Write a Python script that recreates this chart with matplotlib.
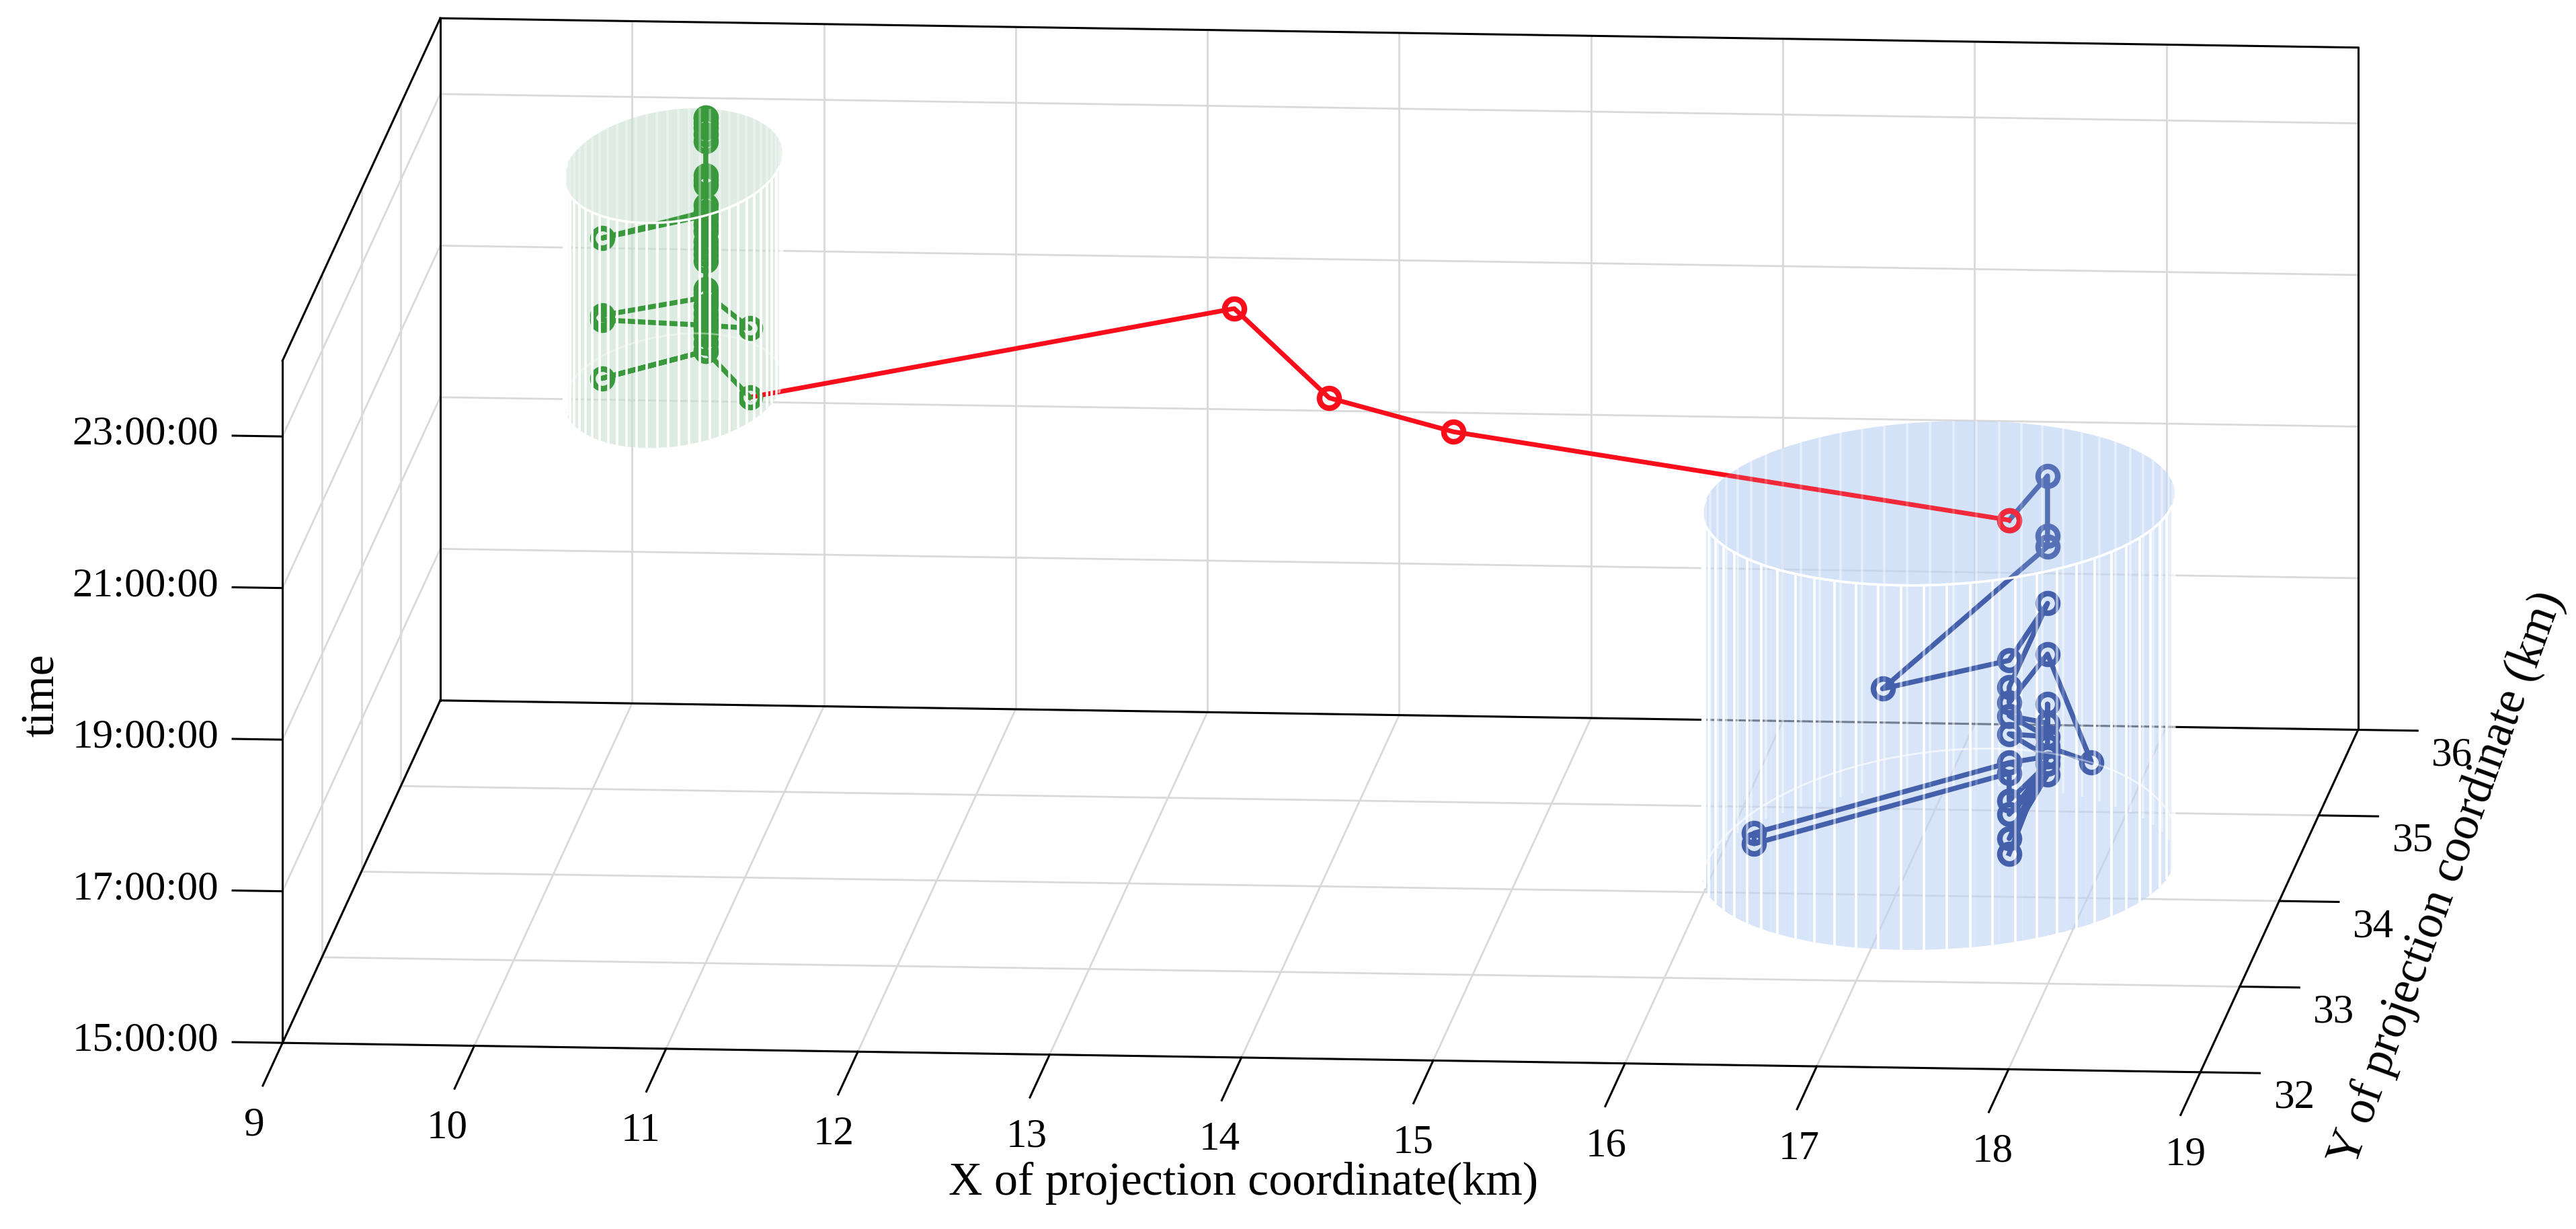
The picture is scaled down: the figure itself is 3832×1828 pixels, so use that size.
import numpy as np
import matplotlib
matplotlib.use("Agg")
import matplotlib.pyplot as plt
from mpl_toolkits.mplot3d import proj3d
from mpl_toolkits.mplot3d.art3d import Poly3DCollection, Line3DCollection

########### DATA ###########
x_ticks = [9, 10, 11, 12, 13, 14, 15, 16, 17, 18, 19]
y_ticks = [32, 33, 34, 35, 36]
z_ticks = [15, 17, 19, 21, 23]
z_labels = ["15:00:00", "17:00:00", "19:00:00", "21:00:00", "23:00:00"]

# cylinders: centre x, centre y, radius x, radius y, bottom hour, top hour
green_cyl = [10.42, 35.0, 0.553, 0.67, 20.27, 23.24]
blue_cyl = [17.224, 34.0, 1.215, 0.96, 15.37, 20.18]

green_y = 35.0
green_x = [10.82, 10.59, 10.05, 10.59, 10.59, 10.59, 10.59, 10.59, 10.82, 10.59, 10.59, 10.59,
           10.05, 10.05, 10.59, 10.59, 10.59, 10.59, 10.59, 10.59, 10.59, 10.59, 10.59,
           10.59, 10.59, 10.59, 10.05, 10.59, 10.59, 10.59, 10.59, 10.59, 10.59, 10.59,
           10.59, 10.59, 10.59, 10.59]
green_z = [20.20, 20.80, 20.42, 20.80, 20.91, 21.01, 21.10, 21.14, 21.11, 21.56, 21.21, 21.14,
           21.19, 21.25, 21.51, 21.62, 21.40, 21.30, 21.99, 22.08, 22.16, 22.25, 22.38,
           22.47, 22.56, 22.64, 22.27, 22.59, 22.73, 22.99, 23.05, 23.12, 23.57, 23.66,
           23.75, 23.81, 23.88, 23.88]

red_x = [10.82, 13.14, 13.80, 14.523, 17.592]
red_y = [35.0, 36.0, 35.2, 34.83, 34.0]
red_z = [20.20, 20.33, 20.08, 20.08, 19.97]

blue_y = 34.0
blue_x = [17.592, 17.792, 17.792, 17.792, 16.932, 17.592, 17.792, 17.592, 17.592, 17.792, 18.022,
          17.792, 17.792, 17.792, 17.592, 17.792, 17.592, 17.792, 17.592, 16.262, 16.262, 17.592,
          17.592, 17.792, 17.592, 17.792, 17.592, 17.792, 17.592]
blue_z = [19.97, 20.56, 19.77, 19.63, 17.72, 18.12, 18.88, 17.77, 17.56, 18.21, 16.79,
          16.99, 17.55, 17.30, 17.39, 17.12, 17.15, 16.86, 16.77, 15.79, 15.65, 16.63,
          16.27, 16.76, 16.09, 16.62, 15.77, 16.86, 15.57]
############################

plt.rcParams["font.family"] = ["Liberation Serif", "DejaVu Serif"]

W, H = 3832, 1828
S = 4000
CX, CY = 1910, 865
fig = plt.figure(figsize=(W / 100, H / 100), dpi=100, facecolor="white")
ax = fig.add_axes([(CX - S / 2) / W, (H - CY - S / 2) / H, S / W, S / H], projection="3d", proj_type="ortho")
ax.computed_zorder = False
ax.view_init(elev=10.5, azim=-85.2)
ax.set_box_aspect((1179, 1155, 425), zoom=1.0044)
ax.set_xlim(9, 19)
ax.set_ylim(32, 36)
ax.set_zlim(15, 24)
ax.set_xticks([])
ax.set_yticks([])
ax.set_zticks([])
ax.set_axis_off()

# grid on the floor, the back wall and the left wall
grid = dict(color="#d9d9d9", lw=2.0, zorder=0.5)
for v in x_ticks:
    ax.plot([v, v], [32, 36], [15, 15], **grid)
    ax.plot([v, v], [36, 36], [15, 24], **grid)
for v in y_ticks:
    ax.plot([9, 19], [v, v], [15, 15], **grid)
    ax.plot([9, 9], [v, v], [15, 24], **grid)
for v in z_ticks:
    ax.plot([9, 19], [36, 36], [v, v], **grid)
    ax.plot([9, 9], [32, 36], [v, v], **grid)

# box outline
edge = dict(color="k", lw=2.2, zorder=1)
ax.plot([9, 19], [32, 32], [15, 15], **edge)
ax.plot([19, 19], [32, 36], [15, 15], **edge)
ax.plot([9, 9], [32, 36], [15, 15], **edge)
ax.plot([9, 19], [36, 36], [15, 15], **edge)
ax.plot([9, 9], [36, 36], [15, 24], **edge)
ax.plot([19, 19], [36, 36], [15, 24], **edge)
ax.plot([9, 19], [36, 36], [24, 24], **edge)
ax.plot([9, 9], [32, 36], [24, 24], **edge)
ax.plot([9, 9], [32, 32], [15, 24], **edge)


def tick_label(x, y, z, text):
    px, py, _ = proj3d.proj_transform(x, y, z, ax.get_proj())
    ax.text2D(px, py, text, transform=ax.transData, fontsize=44, ha="center", va="center", zorder=8)


# ticks and tick labels
for v in x_ticks:
    ax.plot([v, v], [32, 31.5], [15, 15], **edge)
    tick_label(v + 0.05 + (v - 9) * 0.007, 31.04, 15, str(v))
for v in y_ticks:
    ax.plot([19, 19.31], [v, v], [15, 15], **edge)
    tick_label(19.49, v, 14.68, str(v))
for v, s in zip(z_ticks, z_labels):
    ax.plot([9, 8.74], [32, 32], [v, v], **edge)
    tick_label(8.286, 32, v, s)


def cylinder_fill(spec, color):
    cx, cy, rx, ry, z0, z1 = spec
    t = np.linspace(np.pi, 2 * np.pi, 31)
    xs = cx + rx * np.cos(t)
    ys = cy + ry * np.sin(t)
    walls = [[(xs[i], ys[i], z0), (xs[i + 1], ys[i + 1], z0), (xs[i + 1], ys[i + 1], z1), (xs[i], ys[i], z1)]
             for i in range(30)]
    ax.add_collection3d(Poly3DCollection(walls, facecolor=(*color, 0.6), edgecolor="none", zorder=2))
    t = np.linspace(0, 2 * np.pi, 121)
    cap = list(zip(cx + rx * np.cos(t), cy + ry * np.sin(t), [z1] * 121))
    ax.add_collection3d(Poly3DCollection([cap], facecolor=(*color, 0.6), edgecolor="none", zorder=2))
    return cap


def cylinder_edges(spec, stripe_lw, zorder=6, alpha=1.0, floor_ry=1.0):
    cx, cy, rx, ry, z0, z1 = spec
    t = np.linspace(0, 2 * np.pi, 65)
    xs = cx + rx * np.cos(t)
    ys = cy + ry * np.sin(t)
    front = [[(a, b, z0), (a, b, z1)] for a, b, s in zip(xs[:-1], ys[:-1], np.sin(t[:-1])) if s < 0]
    back = [[(a, b, z0), (a, b, z1)] for a, b, s in zip(xs[:-1], ys[:-1], np.sin(t[:-1])) if s >= 0]
    ax.add_collection3d(Line3DCollection(front, colors=[(1, 1, 1, alpha)], linewidths=stripe_lw, zorder=zorder))
    ax.add_collection3d(Line3DCollection(back, colors=[(1, 1, 1, 0.35 * alpha)], linewidths=stripe_lw, zorder=zorder))
    t = np.linspace(0, np.pi, 61)
    ax.plot(cx + rx * np.cos(t), cy + ry * floor_ry * np.sin(t), [z0] * 61, color=(1, 1, 1, 0.4), lw=2, zorder=zorder)
    t = np.linspace(np.pi, 2 * np.pi, 61)
    ax.plot(cx + rx * np.cos(t), cy + ry * np.sin(t), [z1] * 61, color="white", lw=2.5, zorder=zorder)


marker = dict(marker="o", ms=21, mew=6, mfc="none")
cylinder_fill(green_cyl, (0.79, 0.875, 0.817))
blue_cap = cylinder_fill(blue_cyl, (0.75, 0.83, 0.96))
cylinder_edges(blue_cyl, 2.6, zorder=2.2, floor_ry=1.45)

ax.plot(blue_x, [blue_y] * len(blue_x), blue_z, color="#4460ab", lw=5.4, zorder=2.5, **marker)
ax.plot(red_x, red_y, red_z, color="#fb0d1c", lw=5.0, markevery=[1, 2, 3, 4], zorder=3, **marker)
ax.plot(green_x, [green_y] * len(green_x), green_z, color="#3a993c", lw=5.4, zorder=4, **marker)

# the red end inside the blue cylinder reads slightly washed out
ax.add_collection3d(Poly3DCollection([blue_cap], facecolor=(0.75, 0.83, 0.96, 0.14), edgecolor="none", zorder=5))
cylinder_edges(green_cyl, 2.6)
cylinder_edges(blue_cyl, 2.6, alpha=0.55, floor_ry=1.45)

fig.text(757 * 2.444 / W, 1 - 720 * 2.444 / H, "X of projection coordinate(km)", fontsize=50.5, ha="center", va="center")
fig.text(1490 * 2.444 / W, 1 - 535 * 2.444 / H, "Y of projection coordinate (km)", fontsize=51, rotation=70, ha="center", va="center")
fig.text(26 * 2.444 / W, 1 - 423 * 2.444 / H, "time", fontsize=50, rotation=90, ha="center", va="center")

fig.savefig("out.png", dpi=100)
